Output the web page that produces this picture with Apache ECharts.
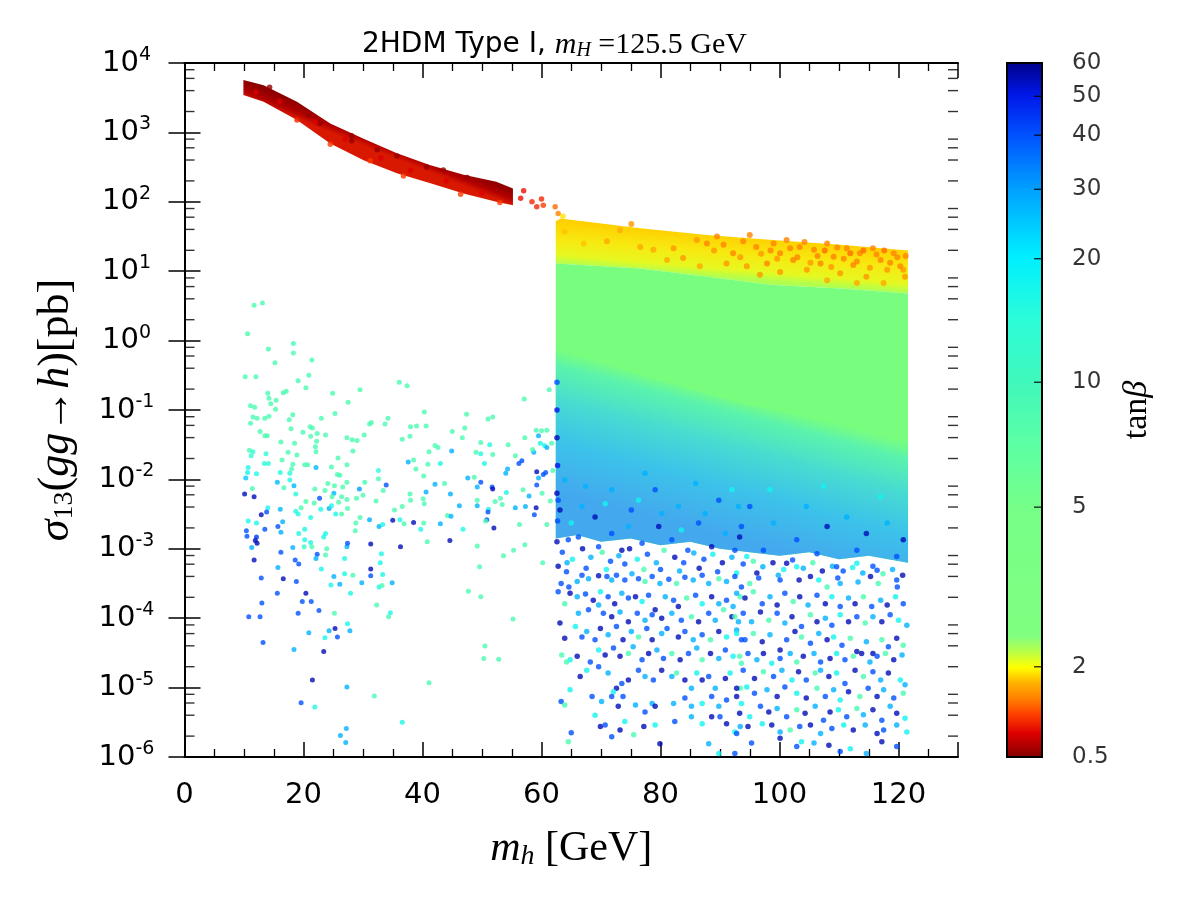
<!DOCTYPE html>
<html>
<head>
<meta charset="utf-8">
<title>2HDM Type I</title>
<script src="https://cdn.jsdelivr.net/npm/echarts@6/dist/echarts.min.js"></script>
<style>
html,body{margin:0;padding:0;background:#fff;}
#chart{width:1200px;height:900px;}
</style>
</head>
<body>
<div id="chart"></div>
<script>
// colour bar: tick labels and where they sit on the bar (0 = bottom, 1 = top)
var tbTicks = [0.5, 2, 5, 10, 20, 30, 40, 50, 60];
var tbTickPos = [0, 0.13, 0.36, 0.54, 0.718, 0.818, 0.896, 0.952, 1];
var jetStops = [
  [0, '#800000'], [0.035, '#dd0000'], [0.063, '#ff4000'], [0.085, '#ff8000'],
  [0.107, '#ffb000'], [0.13, '#ffff00'], [0.15, '#c0ff40'], [0.175, '#80ff80'],
  [0.36, '#76ff88'], [0.45, '#5cffa4'], [0.54, '#40f8bc'], [0.63, '#2cfcd8'],
  [0.718, '#00f0ff'], [0.77, '#00c8ff'], [0.818, '#00a0ff'], [0.896, '#0050ff'],
  [0.952, '#0018e8'], [1, '#000088']
];

// outlines of the dense parts, [m_h, log10 sigma]
var redTop = [[9.9,3.755],[13.3,3.68],[18.9,3.44],[24.5,3.13],[30.1,2.91],[35.7,2.70],[41.2,2.53],[46.9,2.39],[52.4,2.29],[55.2,2.19]];
var redBottom = [[9.9,3.54],[13.3,3.44],[18.9,3.18],[24.5,2.84],[30.1,2.60],[35.7,2.41],[41.2,2.27],[46.9,2.12],[52.4,2.00],[55.2,1.95]];
var blockTop = [[62.4,1.72],[63.2,1.76],[76.6,1.62],[87.8,1.52],[98.9,1.45],[110.2,1.38],[121.6,1.30]];
var yellowEdge = [[62.4,1.11],[76.6,1.04],[87.8,0.92],[98.9,0.80],[110.2,0.75],[121.6,0.68]];
var greenEdge = [[62.4,-0.1],[76.6,-0.5],[93.2,-0.9],[110.2,-1.2],[121.6,-1.45]];
var blockBottom = [[62.4,-2.85],[66,-2.8],[70,-2.9],[75,-2.85],[80,-2.95],[85,-2.9],[90,-3.0],[95,-3.05],[100,-3.1],[105,-3.05],[110,-3.15],[115,-3.1],[121.6,-3.2]];

// points, [m_h, log10 sigma, tanb]
var redPts = [
  [14.3,3.65,0.6],[17.5,3.44,0.6],[20.8,3.25,0.6],[22.7,3.13,0.6],[28.1,2.95,0.6],[28.1,2.88,0.6],
  [32.4,2.75,0.6],[35.7,2.66,0.6],[40.7,2.50,0.6],[43.5,2.46,0.6],[47.5,2.35,0.6],[50.8,2.27,0.6],[54.1,2.17,0.6],
  [24.5,2.83,1.2],[31.2,2.59,1.2],[36.8,2.37,1.2],[46.4,2.11,1.2],[53.0,1.99,1.2],[18.9,3.18,1.1],
  [12,3.58,0.9],[16,3.45,0.9],[22,3.15,0.9],[27,2.9,0.9],[33,2.63,0.9],[38,2.45,0.9],[44,2.3,0.9],[50,2.13,0.9],
  [57.0,2.16,1.0],[56.5,2.05,1.0],[58.4,2.00,1.1],[60.0,2.04,1.1],[59.2,1.93,1.1],[60.3,1.95,1.2],
  [62.3,1.93,1.4],[62.8,1.83,1.5],[63.6,1.79,1.9]
];
var orangePts = [
  [63.9,1.57,1.8],[67.1,1.40,1.8],[71.0,1.43,1.7],[73.2,1.59,1.7],[75.1,1.68,1.6],[76.6,1.35,1.7],[78.8,1.31,1.7],
  [82.2,1.33,1.6],[83.8,1.19,1.6],[86.1,1.45,1.6],[87.8,1.40,1.5],[89.5,1.50,1.5],[90.6,1.38,1.5],[92.2,1.26,1.5],
  [93.9,1.43,1.5],[95.0,1.52,1.5],[96.1,1.35,1.5],[97.9,1.11,1.5],[99.0,1.40,1.5],[100.1,1.26,1.5],[101.2,1.45,1.5],
  [102.3,1.16,1.5],[103.4,1.35,1.5],[104.6,1.02,1.6],[105.8,1.31,1.5],[106.9,1.11,1.5],[108.0,1.40,1.5],[109.1,1.21,1.5],
  [110.2,0.97,1.6],[111.3,1.33,1.5],[112.4,1.09,1.5],[113.5,1.26,1.5],[114.6,0.92,1.6],[115.7,1.33,1.5],[117.0,1.16,1.5],
  [118.1,1.02,1.6],[119.2,1.26,1.5],[120.3,1.07,1.5],[121.1,0.92,1.6],[91.1,1.11,1.6],[94.5,1.07,1.6],[96.7,0.95,1.6],
  [100.1,0.99,1.6],[108.0,0.87,1.7],[113.0,0.83,1.7],[117.5,0.83,1.7],[86.6,1.07,1.7],[81.1,1.16,1.7],
  [98.5,1.30,1.5],[101.8,1.33,1.5],[103.0,1.20,1.5],[104.2,1.42,1.5],[106.4,1.22,1.5],[107.6,1.30,1.4],[108.7,1.06,1.6],
  [110.8,1.18,1.5],[111.9,1.26,1.4],[113.0,1.14,1.5],[114.1,1.30,1.4],[115.2,1.05,1.6],[116.3,1.24,1.5],[117.6,1.30,1.4],
  [118.6,1.12,1.5],[119.8,1.20,1.5],[120.8,1.02,1.6],[121.2,1.22,1.5],[109.7,1.34,1.5],[105.2,1.12,1.6],[99.6,1.18,1.6],
  [96.9,1.25,1.6],[93.4,1.20,1.6],[89.0,1.30,1.6]
];
var lowPts = [
  [11.7,0.51,9],[13.1,0.54,9],[10.6,0.10,9],[14.1,-0.12,9],[18.3,-0.04,9],[18.3,-0.18,9],[21.4,-0.28,9],[15.2,-0.32,9],
  [10.2,-0.52,9],[12.0,-0.52,9],[19.1,-0.58,9],[20.9,-0.50,9],[20.4,-0.68,9],[29.5,-0.71,9],[24.9,-0.76,9],[14.0,-0.76,9],
  [16.6,-0.75,9],[17.1,-0.73,9],[14.2,-0.83,9],[15.4,-0.86,9],[14.5,-0.91,9],[15.3,-0.99,9],[11.1,-0.94,9],[11.8,-0.96,9],
  [27.5,-0.89,9],[11.5,-1.10,9],[12.2,-1.12,9],[13.5,-1.12,9],[14.2,-1.09,9],[18.2,-1.07,9],[17.6,-1.14,9],[25.3,-1.05,9],
  [23.0,-1.12,9],[11.1,-1.19,9],[12.7,-1.31,9],[13.5,-1.37,9],[13.9,-1.37,9],[17.9,-1.27,9],[19.9,-1.32,9],[21.1,-1.24,9],
  [21.5,-1.26,9],[21.2,-1.38,9],[22.3,-1.34,9],[23.7,-1.36,9],[27.3,-1.40,9],[28.2,-1.43,9],[29.0,-1.44,9],[30.2,-1.36,9],
  [31.1,-1.20,9],[31.4,-1.18,9],[10.9,-1.58,9],[11.5,-1.60,14],[11.2,-1.66,14],[13.7,-1.63,14],[16.2,-1.46,9],[18.5,-1.48,9],
  [17.4,-1.61,9],[22.2,-1.45,9],[22.0,-1.53,9],[22.1,-1.60,9],[28.3,-1.59,9],[18.9,-1.65,9],[16.4,-1.72,9],[20.2,-1.79,9],
  [20.7,-1.79,9],[24.7,-1.82,9],[25.8,-1.69,9],[18.2,-1.78,9],[13.4,-1.77,15],[14.1,-1.77,15],[10.7,-1.83,17],[10.6,-1.90,18],
  [12.1,-1.92,17],[10.3,-1.98,25],[16.1,-1.90,16],[18.0,-1.85,9],[17.7,-1.91,16],[22.1,-1.83,27],[27.3,-1.79,9],[25.7,-1.93,9],
  [26.1,-1.94,9],[32.6,-1.87,15],[32.6,-1.99,9],[30.3,-2.04,9],[27.3,-2.04,9],[26.6,-2.11,9],[25.2,-2.09,9],[24.1,-2.06,9],
  [21.9,-2.14,9],[17.7,-2.01,16],[18.4,-2.09,27],[15.6,-2.04,27],[11.4,-2.13,9],[16.7,-2.12,9],[18.7,-2.21,16],[23.6,-2.16,9],
  [25.1,-2.20,27],[24.8,-2.25,9],[26.4,-2.25,9],[25.9,-2.33,9],[27.3,-2.29,9],[28.9,-2.27,9],[29.4,-2.14,30],[30.0,-2.23,9],
  [32.2,-2.31,9],[22.7,-2.27,40],[21.8,-2.34,9],[20.4,-2.32,9],[19.6,-2.41,9],[18.7,-2.46,16],[19.1,-2.50,16],[14.0,-2.41,17],
  [13.8,-2.47,40],[12.9,-2.51,55],[16.1,-2.43,27],[10.1,-2.21,55],[11.7,-2.25,55],[10.7,-2.60,17],[12.1,-2.63,17],[13.5,-2.72,40],
  [15.7,-2.68,40],[16.5,-2.61,28],[16.2,-2.76,28],[19.2,-2.78,17],[20.2,-2.72,17],[21.2,-2.55,17],[22.9,-2.43,17],[24.3,-2.42,28],
  [24.7,-2.38,17],[25.4,-2.50,17],[26.4,-2.50,9],[27.4,-2.42,9],[28.8,-2.63,9],[29.5,-2.55,9],[28.7,-2.74,9],[31.1,-2.58,28],
  [32.7,-2.68,28],[10.4,-2.74,40],[10.5,-2.82,40],[12.1,-2.83,45],[11.9,-2.88,55],[12.2,-2.92,55],[11.3,-2.98,28],[11.7,-3.16,55],
  [12.9,-3.42,40],[13.0,-3.78,40],[10.8,-3.98,40],[12.7,-3.98,40],[13.2,-4.35,40],[15.7,-3.27,28],[16.6,-3.43,55],[15.6,-3.64,40],
  [16.2,-3.05,40],[18.2,-2.98,28],[18.6,-3.16,40],[19.2,-3.22,40],[18.8,-3.47,40],[20.2,-2.87,17],[20.1,-2.97,12],[21.4,-2.97,9],
  [22.3,-3.08,40],[22.1,-3.14,28],[23.0,-3.29,17],[23.7,-3.09,9],[23.9,-3.00,9],[23.4,-2.83,17],[23.7,-2.78,17],[21.2,-2.91,17],
  [25.1,-3.40,28],[24.6,-3.52,17],[26.1,-3.51,28],[26.9,-3.36,17],[28.3,-3.38,9],[29.8,-3.49,28],[27.9,-3.64,17],[27.3,-2.97,28],
  [27.4,-2.92,40],[26.9,-3.14,17],[31.3,-2.93,55],[31.3,-3.29,55],[31.3,-3.39,40],[32.3,-3.81,9],[32.7,-3.55,17],[20.4,-3.64,55],
  [19.8,-3.76,40],[21.3,-3.76,40],[22.6,-3.89,40],[19.1,-3.93,40],[25.2,-3.93,9],[20.9,-4.21,28],[23.6,-4.28,17],[24.3,-4.18,28],
  [25.3,-4.15,55],[25.7,-4.27,40],[27.4,-4.08,17],[27.8,-4.18,28],[23.4,-4.48,55],[18.4,-4.45,28],[21.5,-4.89,55],[27.3,-4.99,28],
  [19.6,-5.22,40],[21.9,-5.28,17],[31.9,-5.12,9],[27.2,-5.59,28],[26.2,-5.69,28],[27.1,-5.79,28],
  [36.1,-0.60,9],[37.4,-0.65,9],[57.1,-0.84,9],[61.3,-0.71,9],[40.3,-1.03,9],[47.4,-1.06,9],[51.0,-1.13,9],[51.8,-1.10,9],
  [33.7,-1.20,9],[34.2,-1.12,9],[38.0,-1.24,9],[39.0,-1.23,9],[40.6,-1.23,9],[45.0,-1.31,9],[47.1,-1.26,9],[36.6,-1.42,9],
  [37.9,-1.38,9],[46.7,-1.40,9],[42.1,-1.51,9],[42.6,-1.54,9],[41.1,-1.60,9],[49.8,-1.47,9],[54.4,-1.50,9],[57.2,-1.40,9],
  [59.1,-1.29,9],[60.0,-1.30,9],[60.9,-1.29,9],[51.3,-1.50,16],[49.0,-1.61,9],[49.8,-1.63,16],[51.8,-1.64,9],[44.9,-1.59,28],
  [37.6,-1.75,28],[38.5,-1.72,9],[38.9,-1.85,9],[40.9,-1.78,9],[43.0,-1.77,17],[50.4,-1.77,17],[55.6,-1.66,9],[56.7,-1.73,40],
  [56.2,-1.77,40],[58.7,-1.61,28],[58.5,-1.57,9],[59.5,-1.37,28],[59.8,-1.48,17],[60.5,-1.51,17],[60.9,-1.54,28],[61.7,-1.48,9],
  [33.9,-2.08,40],[33.4,-2.16,9],[40.2,-1.95,9],[42.1,-2.07,28],[43.7,-2.06,9],[40.6,-2.18,28],[37.9,-2.21,9],[38.0,-2.30,9],
  [40.1,-2.28,9],[40.3,-2.35,9],[36.6,-2.39,9],[35.3,-2.44,9],[44.7,-2.21,28],[47.6,-1.98,28],[48.7,-1.97,9],[49.2,-2.11,28],
  [49.8,-2.04,40],[51.7,-2.11,40],[51.8,-2.14,55],[54.0,-1.91,28],[54.3,-1.85,28],[54.1,-2.19,17],[53.1,-2.27,9],[49.2,-2.30,9],
  [52.2,-2.32,9],[53.4,-2.36,9],[56.9,-2.15,9],[57.9,-2.24,28],[59.2,-1.89,55],[59.5,-1.98,28],[60.3,-1.93,40],[60.7,-1.90,40],
  [59.2,-2.08,40],[61.9,-1.87,9],[60.1,-2.20,9],[61.5,-2.31,9],[46.2,-2.38,28],[49.2,-2.38,28],[51.1,-2.43,17],[51.0,-2.47,40],
  [50.8,-2.58,40],[50.6,-2.60,9],[52.0,-2.70,55],[55.6,-2.41,28],[57.3,-2.39,28],[59.1,-2.41,55],[58.8,-2.51,40],[60.9,-2.65,9],
  [56.3,-2.65,9],[44.2,-2.52,9],[44.8,-2.53,28],[43.0,-2.64,28],[39.7,-2.72,17],[40.2,-2.63,9],[38.5,-2.62,55],[36.9,-2.64,9],
  [36.2,-2.58,17],[35.0,-2.59,55],[33.3,-2.65,17],[36.3,-2.97,55],[40.8,-2.90,9],[44.6,-2.88,55],[46.8,-2.72,17],[49.2,-2.96,9],
  [53.6,-3.10,9],[55.3,-3.02,9],[57.2,-2.94,9],[60.2,-3.20,9],[49.6,-3.26,9],[33.1,-3.07,17],[32.9,-3.20,17],[33.3,-3.37,17],
  [33.2,-3.53,9],[34.9,-3.49,28],[34.6,-3.92,17],[34.3,-3.98,9],[47.7,-3.61,9],[49.8,-3.69,9],[55.2,-4.01,9],[50.5,-4.40,9],
  [50.3,-4.58,9],[52.8,-4.59,9],[41.1,-4.93,9],[36.6,-5.50,17]
];
var highPts = [
  [63.5,-3.05,40],[65.2,-3.15,18],[66.9,-3.0,55],[68.3,-3.12,28],[70.2,-3.05,9],[71.6,-3.18,40],[73.0,-3.1,28],[74.8,-3.0,55],
  [76.1,-3.15,18],[77.8,-3.08,40],[79.3,-3.2,28],[80.6,-3.02,9],[82.4,-3.12,55],[83.9,-3.2,40],[85.6,-3.06,28],[87.3,-3.15,40],
  [88.8,-3.08,18],[90.4,-3.2,55],[92.0,-3.12,28],[93.9,-3.22,40],[95.6,-3.18,9],[97.2,-3.26,28],[98.9,-3.2,55],[100.7,-3.3,18],
  [102.2,-3.16,40],[104.0,-3.28,28],[105.6,-3.2,9],[107.2,-3.32,55],[108.9,-3.25,28],[110.7,-3.32,40],[112.3,-3.27,18],[114.0,-3.35,28],
  [115.7,-3.25,40],[117.4,-3.36,9],[119.0,-3.3,28],[120.7,-3.38,55],
  [64.3,-3.2,28],[67.5,-3.28,40],[70.9,-3.3,18],[74.0,-3.22,40],[77.2,-3.3,9],[80.0,-3.3,40],[83.2,-3.32,28],[86.5,-3.28,55],
  [89.6,-3.33,40],[92.8,-3.35,18],[96.5,-3.42,40],[99.8,-3.38,28],[103.3,-3.45,55],[106.6,-3.45,18],[109.8,-3.42,40],[113.2,-3.48,28],
  [116.6,-3.5,9],[119.8,-3.55,40],
  [62.8,-3.25,55],[64.2,-3.33,40],[63.3,-3.50,40],[64.6,-3.55,40],[66.0,-3.47,28],[66.8,-3.38,40],[67.9,-3.43,28],[69.6,-3.39,55],
  [71.0,-3.40,40],[71.8,-3.45,28],[72.6,-3.38,40],[74.0,-3.45,40],[75.2,-3.36,28],[76.3,-3.43,40],[77.4,-3.47,9],[78.6,-3.40,40],
  [79.9,-3.50,28],[81.4,-3.44,40],[82.7,-3.50,9],[84.1,-3.41,40],[85.5,-3.45,28],[87.0,-3.38,40],[88.1,-3.50,28],[89.8,-3.43,9],
  [91.1,-3.47,28],[92.5,-3.40,40],[93.6,-3.55,40],
  [62.8,-3.62,40],[64.8,-3.64,55],[66.0,-3.69,28],[67.4,-3.65,40],[68.7,-3.74,55],[69.9,-3.62,18],[71.2,-3.69,40],[72.3,-3.79,55],
  [73.5,-3.64,28],[74.6,-3.71,40],[75.8,-3.69,55],[76.9,-3.76,18],[78.0,-3.67,40],[79.1,-3.88,55],[80.8,-3.69,28],[82.2,-3.74,40],
  [83.0,-3.83,55],[84.4,-3.71,9],[85.9,-3.67,40],[87.0,-3.79,18],[88.6,-3.69,55],[89.8,-3.79,28],[91.1,-3.74,40],[92.2,-3.83,28],
  [93.4,-3.69,9],
  [63.1,-4.07,55],[63.9,-3.79,9],[66.2,-3.93,28],[67.9,-3.88,40],[69.6,-3.81,28],[70.4,-3.93,40],[71.8,-3.98,55],[73.2,-3.91,28],
  [74.6,-4.05,55],[76.1,-3.93,40],[77.4,-4.03,28],[78.6,-3.95,40],[80.2,-4.00,55],[81.9,-3.93,28],[83.5,-4.03,40],[85.2,-3.98,9],
  [86.4,-4.05,55],[88.1,-3.93,40],[89.2,-4.03,28],[90.6,-3.88,9],[92.0,-3.98,55],[93.1,-4.05,28],
  [63.9,-4.29,55],[65.7,-4.12,18],[66.8,-4.27,40],[67.6,-4.19,28],[69.0,-4.31,40],[69.9,-4.15,55],[71.2,-4.24,28],[72.6,-4.12,40],
  [73.7,-4.31,55],[75.1,-4.19,28],[76.3,-4.27,9],[77.7,-4.15,40],[78.6,-4.31,55],[80.2,-4.22,28],[81.1,-4.15,40],[83.0,-4.27,55],
  [84.1,-4.19,40],[85.5,-4.31,28],[87.0,-4.24,40],[88.4,-4.31,9],[89.8,-4.19,55],[91.1,-4.27,18],[92.8,-4.17,28],[93.6,-4.31,40],
  [63.4,-4.53,9],[64.8,-4.60,18],[64.2,-4.63,9],[66.0,-4.55,55],[68.2,-4.63,40],[69.6,-4.46,18],[70.7,-4.53,55],[72.1,-4.43,40],
  [73.2,-4.55,55],[74.6,-4.51,9],[75.4,-4.41,28],[76.9,-4.60,40],[78.0,-4.51,55],[79.4,-4.46,28],[80.5,-4.58,40],[81.9,-4.51,9],
  [83.3,-4.60,55],[84.7,-4.51,40],[86.1,-4.43,28],[87.0,-4.60,9],[88.4,-4.51,55],[89.8,-4.58,28],[90.9,-4.46,40],[92.2,-4.55,18],
  [93.6,-4.65,9],
  [66.5,-4.84,55],[67.6,-4.75,18],[69.6,-4.70,40],[71.2,-4.79,28],[72.6,-5.01,55],[73.5,-4.94,40],[72.1,-5.06,18],[74.6,-4.89,55],
  [76.3,-4.75,40],[77.4,-4.84,28],[78.8,-4.89,40],[80.2,-4.75,55],[81.9,-4.84,28],[82.7,-4.79,9],[84.1,-4.89,55],[85.2,-5.01,28],
  [86.1,-4.79,18],[87.0,-4.89,55],[88.1,-4.84,40],[89.2,-5.01,28],[90.9,-4.87,55],[91.7,-4.79,18],[93.4,-5.01,9],
  [64.8,-5.03,18],[63.3,-5.20,40],[63.9,-5.25,9],[68.5,-5.13,40],[70.1,-5.20,28],[71.8,-5.13,40],[72.9,-5.27,55],[73.7,-5.13,40],
  [75.8,-5.25,28],[77.4,-5.35,40],[78.6,-5.23,28],[79.1,-5.27,55],[82.2,-5.23,28],[84.1,-5.15,40],[85.2,-5.27,28],[87.0,-5.23,18],
  [88.6,-5.13,40],[89.8,-5.27,28],[91.1,-5.18,40],[92.8,-5.13,55],[93.6,-5.23,18],
  [69.0,-5.40,18],[69.9,-5.56,55],[70.7,-5.54,40],[71.8,-5.71,40],[73.2,-5.61,55],[74.0,-5.49,18],[75.5,-5.68,9],[77.2,-5.56,55],
  [79.1,-5.54,18],[82.4,-5.49,40],[85.2,-5.42,28],[87.0,-5.52,18],[88.6,-5.42,55],[90.0,-5.42,40],[91.1,-5.52,55],[92.5,-5.64,18],
  [93.4,-5.56,28],[65.0,-5.65,40],[64.5,-5.78,9],[79.9,-5.81,55],[88.1,-5.81,28],[89.8,-5.95,18],[92.5,-5.95,40],
  [63.1,-2.44,55],[62.8,-2.30,40],[64.5,-2.87,40],[66.2,-2.83,40],[69.0,-2.54,55],[69.6,-2.97,40],[71.8,-2.78,40],[73.5,-3.02,55],
  [75.1,-2.44,40],[76.9,-2.92,40],[79.1,-2.15,40],[79.7,-2.68,55],[81.9,-2.87,40],[83.0,-2.39,28],[84.6,-3.02,40],[86.4,-2.63,40],
  [88.6,-2.97,55],[89.8,-2.30,40],[90.9,-2.78,28],[92.5,-3.02,40],[93.6,-2.68,40],[63.9,-2.01,28],[67.4,-2.10,28],[71.8,-2.15,28],
  [77.4,-1.91,28],[85.9,-2.06,28],[66.8,-2.39,28],[74.6,-2.68,28],[80.2,-2.49,28],[87.5,-2.49,28],[93.1,-2.39,28],[65.0,-2.63,18],
  [70.7,-2.35,18],[76.3,-2.30,18],[83.5,-2.73,18],[92.0,-2.15,18],
  [93.3,-2.83,55],[95.0,-2.39,40],[97.3,-3.02,40],[99.0,-2.63,28],[101.2,-3.21,55],[102.9,-2.87,40],[104.5,-2.39,28],[106.3,-3.07,40],
  [108.0,-2.68,55],[109.6,-3.26,40],[111.3,-2.54,28],[113.0,-3.02,40],[114.6,-2.78,55],[116.4,-3.31,40],[118.1,-2.63,28],[119.7,-3.11,40],
  [120.8,-2.87,55],[96.2,-3.35,55],[100.1,-3.45,40],[105.2,-3.40,55],[110.2,-3.50,28],[115.3,-3.40,55],[119.7,-3.45,40],[94.5,-3.11,18],
  [102.9,-3.26,18],[113.0,-3.21,18],[98.4,-2.15,18],[107.4,-2.10,18],[117.0,-2.25,18],[95.0,-3.50,9],[108.0,-3.55,9],
  [92.8,-3.64,28],[94.2,-3.71,55],[95.6,-3.62,9],[97.1,-3.79,40],[98.4,-3.69,28],[99.6,-3.81,55],[100.9,-3.64,40],[102.3,-3.76,9],
  [103.4,-3.69,55],[104.8,-3.81,28],[106.3,-3.67,40],[107.7,-3.79,55],[108.8,-3.69,18],[110.2,-3.83,40],[111.6,-3.71,28],[112.7,-3.79,55],
  [114.1,-3.69,9],[115.5,-3.83,40],[117.0,-3.74,28],[118.1,-3.81,55],[119.5,-3.69,18],[120.8,-3.79,40],
  [92.5,-3.98,9],[93.9,-3.93,40],[95.3,-4.05,28],[96.8,-3.91,55],[98.2,-4.03,9],[99.6,-3.93,40],[100.9,-4.07,28],[102.1,-3.98,55],
  [103.7,-4.12,40],[105.2,-3.95,9],[106.3,-4.05,55],[107.7,-4.00,28],[108.8,-4.10,40],[110.2,-3.95,18],[111.6,-4.05,55],[113.0,-3.98,40],
  [114.4,-4.07,9],[115.7,-3.98,28],[117.2,-4.05,55],[118.6,-3.95,40],[120.0,-4.03,18],[121.4,-4.10,28],
  [92.8,-4.22,18],[94.2,-4.31,40],[95.6,-4.22,9],[97.1,-4.34,55],[98.4,-4.24,28],[100.1,-4.46,55],[101.2,-4.31,40],[102.6,-4.19,55],
  [103.7,-4.27,9],[105.2,-4.36,40],[106.6,-4.22,28],[108.0,-4.31,55],[109.1,-4.27,18],[110.5,-4.39,40],[111.9,-4.29,9],[113.0,-4.48,55],
  [114.6,-4.34,28],[115.7,-4.51,55],[117.2,-4.31,9],[118.3,-4.41,40],[119.7,-4.29,55],[120.8,-4.39,9],
  [93.3,-4.55,9],[94.7,-4.51,40],[96.2,-4.60,28],[97.3,-4.51,55],[98.7,-4.65,18],[100.1,-4.58,40],[101.8,-4.51,28],[102.9,-4.63,9],
  [104.0,-4.55,55],[105.8,-4.51,28],[106.9,-4.63,40],[108.5,-4.58,55],[109.6,-4.51,18],[111.0,-4.60,40],[112.4,-4.55,9],[113.8,-4.51,55],
  [115.2,-4.63,28],[116.4,-4.55,40],[117.8,-4.51,9],[119.2,-4.60,55],[120.6,-4.53,28],
  [93.9,-4.75,40],[95.8,-4.87,55],[97.3,-4.77,9],[99.0,-4.84,40],[100.4,-4.75,28],[102.1,-4.89,18],[103.2,-4.77,55],[104.5,-4.89,40],
  [106.0,-4.79,9],[106.9,-4.75,28],[108.3,-4.84,55],[109.6,-4.79,18],[111.0,-4.94,40],[112.7,-4.75,55],[114.1,-4.84,9],[115.7,-4.77,40],
  [117.0,-4.89,28],[118.3,-4.79,55],[120.3,-4.89,18],[121.1,-4.96,28],
  [92.8,-5.01,55],[94.5,-4.99,18],[95.8,-5.08,40],[97.9,-5.03,28],[99.6,-5.13,55],[100.9,-4.99,40],[102.9,-5.08,18],[104.5,-5.15,55],
  [106.3,-5.01,9],[107.7,-5.13,40],[109.1,-5.03,28],[110.2,-5.18,18],[111.6,-5.06,55],[113.5,-5.13,9],[114.9,-5.01,40],[116.4,-5.13,55],
  [117.5,-5.03,28],[119.2,-5.15,40],[120.8,-5.08,9],
  [93.3,-5.37,55],[95.0,-5.42,18],[96.8,-5.27,40],[98.2,-5.35,55],[99.6,-5.30,28],[101.2,-5.42,40],[102.9,-5.32,9],[104.3,-5.37,55],
  [106.0,-5.27,28],[107.4,-5.47,40],[108.5,-5.35,55],[109.9,-5.32,18],[111.3,-5.42,40],[113.0,-5.30,9],[114.1,-5.39,28],[115.7,-5.32,55],
  [117.2,-5.47,40],[118.6,-5.27,28],[119.7,-5.37,55],[121.1,-5.44,18],
  [92.8,-5.66,40],[94.7,-5.56,55],[97.1,-5.52,18],[98.7,-5.54,55],[100.1,-5.64,28],[101.8,-5.61,9],[103.4,-5.56,40],[105.2,-5.54,55],
  [106.9,-5.66,28],[108.8,-5.59,40],[110.8,-5.54,18],[112.4,-5.61,55],[114.4,-5.54,28],[116.4,-5.66,55],[117.5,-5.61,40],[119.7,-5.54,28],
  [121.4,-5.64,18],
  [95.3,-5.80,40],[100.1,-5.73,55],[102.9,-5.85,40],[103.7,-5.78,18],[105.8,-5.80,28],[108.3,-5.83,55],[110.2,-5.92,40],[111.9,-5.88,18],
  [114.6,-5.95,28],[117.2,-5.78,55],[119.7,-5.85,40],
  [62.6,-0.6,40],[62.6,-1.0,50],[62.6,-1.4,55],[62.7,-1.8,50],[62.6,-2.2,55],[62.7,-2.6,40],[62.6,-2.9,55]
];

var sansFont = 'DejaVu Sans';
var mathFont = 'Liberation Serif';

// tanb -> position on the colour bar
function tbPos(tb) {
  if (tb <= tbTicks[0]) return 0;
  for (var i = 1; i < tbTicks.length; i++) {
    if (tb <= tbTicks[i]) {
      var t = (tb - tbTicks[i - 1]) / (tbTicks[i] - tbTicks[i - 1]);
      return tbTickPos[i - 1] + t * (tbTickPos[i] - tbTickPos[i - 1]);
    }
  }
  return 1;
}
function hexRgb(h) {
  return [parseInt(h.substr(1, 2), 16), parseInt(h.substr(3, 2), 16), parseInt(h.substr(5, 2), 16)];
}
function colorAt(pos) {
  for (var i = 1; i < jetStops.length; i++) {
    if (pos <= jetStops[i][0]) {
      var a = hexRgb(jetStops[i - 1][1]), b = hexRgb(jetStops[i][1]);
      var t = (pos - jetStops[i - 1][0]) / (jetStops[i][0] - jetStops[i - 1][0]);
      return 'rgb(' + [0, 1, 2].map(function (k) { return Math.round(a[k] + t * (b[k] - a[k])); }).join(',') + ')';
    }
  }
  return jetStops[jetStops.length - 1][1];
}
function toPoints(arr) {
  return arr.map(function (p) { return [p[0], Math.pow(10, p[1]), p[2]]; });
}

// gradient running across a band, perpendicular to one of its edges
function acrossGradient(api, edge, len, stops) {
  var a = api.coord([edge[0][0], Math.pow(10, edge[0][1])]);
  var b = api.coord([edge[edge.length - 1][0], Math.pow(10, edge[edge.length - 1][1])]);
  var dx = b[0] - a[0], dy = b[1] - a[1], d = Math.sqrt(dx * dx + dy * dy);
  var m = [(a[0] + b[0]) / 2, (a[1] + b[1]) / 2];
  var n = [-dy / d, dx / d];
  return new echarts.graphic.LinearGradient(m[0], m[1], m[0] + n[0] * len, m[1] + n[1] * len,
    stops.map(function (s) { return {offset: s[0], color: s[1]}; }), true);
}

var bands = [
  {up: redTop, lo: redBottom, fill: function (api) {
    return acrossGradient(api, redTop, 16, [[0, '#8a0000'], [0.6, '#b00000'], [1, '#d81800']]);
  }},
  {up: blockTop, lo: yellowEdge, fill: function (api) {
    return acrossGradient(api, blockTop, 42, [[0, '#ffd000'], [0.4, '#f8e810'], [0.8, '#e6f820'], [1, '#b0ff50']]);
  }},
  {up: yellowEdge, lo: blockBottom, fill: function () { return '#78fd7e'; }},
  {up: greenEdge, lo: blockBottom, fill: function (api) {
    return acrossGradient(api, greenEdge, 140, [[0, 'rgba(96,246,170,0)'], [0.12, 'rgba(84,240,184,0.8)'],
      [0.35, '#48dcd0'], [0.65, '#3cc2ea'], [1, '#44a8ee']]);
  }}
];

// minor ticks of the log axis, at 2, 4, 6, 8 times each decade
var minorTickVals = [];
for (var e = -6; e < 4; e++) {
  [2, 4, 6, 8].forEach(function (m) { minorTickVals.push(m * Math.pow(10, e)); });
}

var chart = echarts.init(document.getElementById('chart'));

var xAxisBase = {
  gridIndex: 0, type: 'value', min: 0, max: 130, interval: 20,
  axisLine: {lineStyle: {color: '#000', width: 2}},
  axisTick: {inside: true, length: 15, lineStyle: {color: '#000', width: 1.5}},
  minorTick: {show: true, splitNumber: 4, length: 8, lineStyle: {color: '#000', width: 1.3}},
  splitLine: {show: false},
  axisLabel: {show: false}
};
var yAxisBase = {
  gridIndex: 0, type: 'log', logBase: 10, min: 1e-6, max: 1e4, interval: 1,
  axisLine: {lineStyle: {color: '#000', width: 2}},
  axisTick: {inside: true, length: 16, lineStyle: {color: '#000', width: 1.5}},
  splitLine: {show: false},
  axisLabel: {show: false}
};

var option = {
  animation: false,
  backgroundColor: '#ffffff',
  title: {
    text: '{s|2HDM Type I, }{m|m}{sub|H}{r| =125.5 GeV}',
    left: 357, top: 24,
    textStyle: {
      fontWeight: 'normal',
      rich: {
        s: {fontFamily: sansFont, fontSize: 28, fontWeight: 'normal', color: '#000'},
        m: {fontFamily: mathFont, fontStyle: 'italic', fontWeight: 'normal', fontSize: 30, color: '#000'},
        sub: {fontFamily: mathFont, fontStyle: 'italic', fontWeight: 'normal', fontSize: 20, color: '#000', padding: [12, 0, 0, 0]},
        r: {fontFamily: mathFont, fontSize: 30, fontWeight: 'normal', color: '#000'}
      }
    }
  },
  grid: [
    {left: 184.5, top: 63, width: 773.5, height: 694},
    {left: 1007, top: 63, width: 35, height: 694}
  ],
  xAxis: [
    Object.assign({}, xAxisBase, {
      position: 'bottom',
      axisLabel: {show: true, fontFamily: sansFont, fontSize: 29, color: '#000', margin: 24, showMaxLabel: false},
      name: '{m|m}{sub|h}{r| [GeV]}',
      nameLocation: 'middle', nameGap: 70,
      nameTextStyle: {
        rich: {
          m: {fontFamily: mathFont, fontStyle: 'italic', fontSize: 42, color: '#000'},
          sub: {fontFamily: mathFont, fontStyle: 'italic', fontSize: 28, color: '#000', padding: [16, 0, 0, 0]},
          r: {fontFamily: mathFont, fontSize: 42, color: '#000'}
        }
      }
    }),
    Object.assign({}, xAxisBase, {position: 'top'}),
    {gridIndex: 1, type: 'value', min: 0, max: 1, show: false}
  ],
  yAxis: [
    Object.assign({}, yAxisBase, {
      position: 'left',
      axisLabel: {
        show: true, align: 'center', margin: 58,
        formatter: function (v) { return '{b|10}{s|' + Math.round(Math.log10(v)) + '}'; },
        rich: {
          b: {fontFamily: sansFont, fontSize: 29, color: '#000'},
          s: {fontFamily: sansFont, fontSize: 19, color: '#000', padding: [0, 0, 16, 0]}
        }
      },
      name: '{m|σ}{sub|13}{r|(}{m|gg}{r|→}{m|h}{r|)[pb]}',
      nameLocation: 'middle', nameGap: 106, nameRotate: 90,
      nameTextStyle: {
        rich: {
          m: {fontFamily: mathFont, fontStyle: 'italic', fontSize: 44, color: '#000'},
          sub: {fontFamily: mathFont, fontSize: 28, color: '#000', padding: [16, 0, 0, 0]},
          r: {fontFamily: mathFont, fontSize: 44, color: '#000'}
        }
      }
    }),
    Object.assign({}, yAxisBase, {position: 'right'}),
    {
      gridIndex: 1, type: 'value', min: 0, max: 1, position: 'right',
      axisLine: {show: false}, axisTick: {show: false}, axisLabel: {show: false}, splitLine: {show: false},
      name: '{r|tan}{m|β}', nameLocation: 'middle', nameRotate: 90, nameGap: 78,
      nameTextStyle: {
        rich: {
          r: {fontFamily: mathFont, fontSize: 34, color: '#000'},
          m: {fontFamily: mathFont, fontStyle: 'italic', fontSize: 34, color: '#000'}
        }
      }
    }
  ],
  series: [
    {
      type: 'custom', xAxisIndex: 0, yAxisIndex: 0, z: 1, clip: true,
      data: bands.map(function (b) { return [b.up[0][0], Math.pow(10, b.up[0][1])]; }),
      renderItem: function (params, api) {
        var b = bands[params.dataIndex];
        var pts = b.up.map(function (p) { return api.coord([p[0], Math.pow(10, p[1])]); });
        var low = b.lo.slice().reverse().map(function (p) { return api.coord([p[0], Math.pow(10, p[1])]); });
        return {type: 'polygon', shape: {points: pts.concat(low)}, style: {fill: b.fill(api), stroke: null}};
      }
    },
    {
      type: 'scatter', xAxisIndex: 0, yAxisIndex: 0, z: 2, symbolSize: 5.5,
      data: toPoints(redPts),
      itemStyle: {color: function (p) { return colorAt(tbPos(p.data[2])); }}
    },
    {
      type: 'scatter', xAxisIndex: 0, yAxisIndex: 0, z: 2, symbolSize: 6,
      data: toPoints(orangePts),
      itemStyle: {color: function (p) { return colorAt(tbPos(p.data[2])); }}
    },
    {
      type: 'scatter', xAxisIndex: 0, yAxisIndex: 0, z: 2, symbolSize: 5,
      data: toPoints(lowPts),
      itemStyle: {color: function (p) { return colorAt(tbPos(p.data[2])); }}
    },
    {
      type: 'scatter', xAxisIndex: 0, yAxisIndex: 0, z: 2, symbolSize: 5.5,
      data: toPoints(highPts),
      itemStyle: {color: function (p) { return colorAt(tbPos(p.data[2])); }}
    },
    {
      type: 'scatter', xAxisIndex: 0, yAxisIndex: 0, z: 5, clip: false, silent: true,
      symbol: 'rect', symbolSize: [10, 1.4], symbolOffset: [5, 0],
      data: minorTickVals.map(function (v) { return [0, v]; }),
      itemStyle: {color: '#000'}
    },
    {
      type: 'scatter', xAxisIndex: 0, yAxisIndex: 0, z: 5, clip: false, silent: true,
      symbol: 'rect', symbolSize: [10, 1.4], symbolOffset: [-5, 0],
      data: minorTickVals.map(function (v) { return [130, v]; }),
      itemStyle: {color: '#000'}
    },
    {
      type: 'custom', xAxisIndex: 2, yAxisIndex: 2, z: 1,
      data: [[0, 0]],
      renderItem: function (params, api) {
        var p0 = api.coord([0, 0]), p1 = api.coord([1, 1]);
        return {
          type: 'rect',
          shape: {x: p0[0], y: p1[1], width: p1[0] - p0[0], height: p0[1] - p1[1]},
          style: {
            fill: new echarts.graphic.LinearGradient(0, 1, 0, 0,
              jetStops.map(function (s) { return {offset: s[0], color: s[1]}; })),
            stroke: '#000', lineWidth: 2
          }
        };
      }
    },
    {
      type: 'scatter', xAxisIndex: 2, yAxisIndex: 2, z: 5, silent: true, clip: false,
      symbol: 'rect', symbolSize: [8, 1.4], symbolOffset: [-4, 0],
      data: tbTicks.map(function (t, i) { return [1, tbTickPos[i], t]; }),
      itemStyle: {color: '#000'},
      label: {
        show: true, position: 'right', distance: 30,
        formatter: function (p) { return String(p.data[2]); },
        fontFamily: sansFont, fontSize: 23, color: '#000'
      }
    }
  ]
};
chart.setOption(option);
</script>
</body>
</html>
